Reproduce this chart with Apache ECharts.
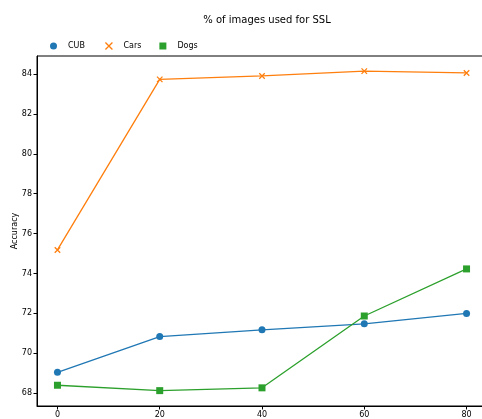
<!DOCTYPE html>
<html>
<head>
<meta charset="utf-8">
<script src="https://cdn.jsdelivr.net/npm/echarts@6/dist/echarts.min.js"></script>
<style>
  html, body { margin: 0; padding: 0; background: #fff; overflow: hidden; }
  #chart { width: 490px; height: 419px; }
</style>
</head>
<body>
<div id="chart"></div>
<script>
// Percent of images used for SSL (x) vs. accuracy per dataset
const sslPercent = [0, 20, 40, 60, 80];
const cubAcc  = [69.05, 70.84, 71.18, 71.48, 72.00];
const carsAcc = [75.18, 83.73, 83.90, 84.14, 84.05];
const dogsAcc = [68.40, 68.13, 68.27, 71.87, 74.23];
const xTicks = [0, 20, 40, 60, 80];
const yTicks = [68, 70, 72, 74, 76, 78, 80, 82, 84];

const FONT = 'DejaVu Sans';
const crossPath = 'path://M0,0 L10,10 M10,0 L0,10';

function pairs(ys) { return sslPercent.map((x, i) => [x, ys[i]]); }

const chart = echarts.init(document.getElementById('chart'));
chart.setOption({
  animation: false,
  textStyle: { fontFamily: FONT },
  title: {
    text: '% of images used for SSL',
    left: 262, top: 10, textAlign: 'center',
    textStyle: { fontFamily: FONT, fontSize: 10, fontWeight: 'normal', color: '#000' }
  },
  legend: {
    left: 45, top: 35,
    itemWidth: 7, itemHeight: 7, itemGap: 18,
    textStyle: { fontFamily: FONT, fontSize: 8, color: '#000', padding: [0, 0, 0, 6] },
    data: [
      { name: 'CUB', icon: 'circle' },
      { name: 'Cars', icon: crossPath, itemStyle: { color: 'none', borderColor: '#ff7f0e', borderWidth: 1.3 } },
      { name: 'Dogs', icon: 'rect' }
    ]
  },
  grid: {
    left: 37, right: 3, top: 56, bottom: 13,
    outerBoundsMode: 'none', containLabel: false,
    show: true, borderColor: '#000', borderWidth: 1, backgroundColor: 'transparent'
  },
  xAxis: {
    type: 'value', min: -4, max: 84,
    splitLine: { show: false },
    axisLine: { onZero: false, lineStyle: { color: '#000', width: 1 } },
    axisTick: { customValues: xTicks, length: 3.5, lineStyle: { color: '#000' } },
    axisLabel: { customValues: xTicks, fontFamily: FONT, fontSize: 8, color: '#000', margin: 5 }
  },
  yAxis: {
    type: 'value', min: 67.36, max: 84.9,
    name: 'Accuracy', nameLocation: 'middle', nameGap: 18, nameMoveOverlap: false,
    nameTextStyle: { fontFamily: FONT, fontSize: 8, color: '#000' },
    splitLine: { show: false },
    axisLine: { show: true, onZero: false, lineStyle: { color: '#000', width: 1 } },
    axisTick: { show: true, customValues: yTicks, length: 3.5, lineStyle: { color: '#000' } },
    axisLabel: { customValues: yTicks, fontFamily: FONT, fontSize: 8, color: '#000', margin: 5 }
  },
  series: [
    {
      name: 'CUB', type: 'line', data: pairs(cubAcc),
      symbol: 'circle', symbolSize: 7,
      lineStyle: { color: '#1f77b4', width: 1.3 },
      itemStyle: { color: '#1f77b4' }
    },
    {
      name: 'Cars', type: 'line', data: pairs(carsAcc),
      symbol: crossPath, symbolSize: 5.5,
      lineStyle: { color: '#ff7f0e', width: 1.3 },
      itemStyle: { color: 'none', borderColor: '#ff7f0e', borderWidth: 1.3 }
    },
    {
      name: 'Dogs', type: 'line', data: pairs(dogsAcc),
      symbol: 'rect', symbolSize: 7,
      lineStyle: { color: '#2ca02c', width: 1.3 },
      itemStyle: { color: '#2ca02c' }
    }
  ]
});
</script>
</body>
</html>
